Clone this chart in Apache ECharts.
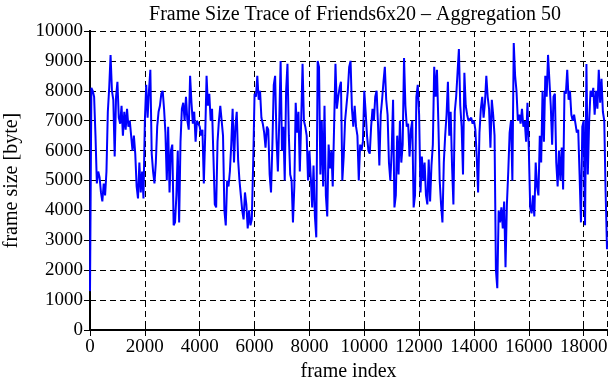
<!DOCTYPE html>
<html>
<head>
<meta charset="utf-8">
<script src="https://cdn.jsdelivr.net/npm/echarts@6/dist/echarts.min.js"></script>
<style>html,body{margin:0;padding:0;background:#fff;}#c{width:611px;height:380px;}</style>
</head>
<body>
<div id="c"></div>
<script>
// frame step of the aggregated trace (each point = 50 frames)
const frameStep = 50;
// frame size values [byte], in consecutive segments
const seg0 = [1300,8100,8000,7800,6500,4900,5300,5100,4600,4300,4900,4500,5300,7300,8100,9200,8000,7700,5800,7800,8300,7100,6900,7500,6500,7300,6700,7400,6800,7000,7000,6000,6500,5900,4800,4400,5600,4600,5300,4400,7000,8200,7100,8000,8700,5900,5300,4900,5600,6800,7300,7500,7900,8000,7400,6600,5000,6800,4600,6000,6200,3500];
const seg1 = [3600,4500,6000,3600,6300,7400,7600,7000,7800,7000,6700,8500,7600,6900,7300,6300,7000,6900,6800,6500,6700,4900,6500,8500,7500,7900,7000,7400,5800,4200,4100,6300,7000,7500,7000,6500,4000,3500,5000,4800,5300,6200,7400,5600,6800,7300,5700,5000,4500,4000,3700,4600,4200,3400,4000,3500,3700,5600,7900];
const seg2 = [7800,8500,7700,8000,7100,6900,6600,6100,6800,6700,5200,4600,6200,8200,8500,6400,5300,7000,9000,6000,6800,5000,8000,8900,6500,5200,5000,3600,4800,7600,6600,7300,5300,7000,8900,7000,6800,6500,5000,6000,5100,4100,5500,3800,3100,9000,8800,5200,7000,4800,7500,4500,3800,6200,5400,6000,4800,6800,8900,7400,7800,8100,8300,5000,5800];
const seg3 = [7000,7500,8000,8800,9000,7400,6800,7500,6800,6500,5000,6200,6000,6300,8000,7300,6500,6000,5900,6800,7400,7000,7800,8000,6900,5500,7200,7700,8300,8800,7700,7200,5600,5000,6000,7700,4100,4500,6500,5200,7000,5600,6200,9100,7500,6800,6900,5800,6700,7000,4100,4500,7800,8200,7200,4600,5800,5000,5600,4500,4200,5700];
const seg4 = [4300,5500,6200,8800,7800,8700,7000,5000,4200,3600,5600,6500,7200,8300,6500,7300,5500,4200,7300,7800,8600,9400,7500,6800,5200,8600,7500,7200,7000,7000,7100,6900,7000,6700,5800,4600,6600,7400,7800,7100,7600,8500,7800,7400,6100,7700,7200,6500,2000,1400,4000,3600,4100,3400,4300,2100,4200,5300,6600,7000];
const seg5 = [5000,9600,8500,8000,7000,7200,6900,7400,6800,7000,6300,7600,6000,4100,3900,4500,3800,5600,4800,4500,6500,5600,8000,6300,8500,7800,9200,9200,7500,6200,7800,7900,5600,4800,6000,5000,6100,4700,8000,7900,8700,7700,8000,7200,7000,7200,6900,6600,6700,5200,3600,6800,7000,3500,8900,5200,7000,8000,7800,8100,7200,8000,7400,8700,7600,8400,7300,7000,4600,2700];
const frameSize = [].concat(seg0, seg1, seg2, seg3, seg4, seg5);
// axis ticks
const xTicks = [0,2000,4000,6000,8000,10000,12000,14000,16000,18000];
const yTicks = [0,1000,2000,3000,4000,5000,6000,7000,8000,9000,10000];

const xMax = (frameSize.length - 1) * frameStep;
const points = frameSize.map((v, i) => [i * frameStep, v]);

const serif = 'Liberation Serif';
const chart = echarts.init(document.getElementById('c'), null, {renderer: 'canvas'});
const frameLine = {show: true, lineStyle: {color: '#000', width: 2}};
const tickIn = {show: true, inside: true, length: 6, lineStyle: {color: '#000', width: 1}};
const dashed = {show: true, lineStyle: {color: '#000', width: 1, type: [6, 4]}};

chart.setOption({
  animation: false,
  backgroundColor: '#fff',
  title: {
    text: 'Frame Size Trace of Friends6x20 \u2013 Aggregation 50',
    left: 350, top: 0, textAlign: 'center',
    textStyle: {fontFamily: serif, fontSize: 20, fontWeight: 'normal', color: '#000'}
  },
  grid: {left: 90, right: 4, top: 31, bottom: 50, containLabel: false, outerBoundsMode: 'none'},
  xAxis: [{
    type: 'value', min: 0, max: xMax, interval: 2000, position: 'bottom',
    name: 'frame index', nameLocation: 'middle', nameGap: 32,
    nameTextStyle: {fontFamily: serif, fontSize: 20, color: '#000'},
    axisLine: frameLine, axisTick: tickIn, splitLine: dashed,
    axisLabel: {fontFamily: serif, fontSize: 19, color: '#000', margin: 8, showMaxLabel: false,
      formatter: v => xTicks.includes(v) ? String(v) : ''}
  }, {
    type: 'value', min: 0, max: xMax, interval: 2000, position: 'top',
    axisLine: frameLine, axisTick: tickIn, splitLine: {show: false}, axisLabel: {show: false}
  }],
  yAxis: [{
    type: 'value', min: 0, max: 10000, interval: 1000, position: 'left',
    name: 'frame size [byte]', nameLocation: 'middle', nameGap: 68,
    nameTextStyle: {fontFamily: serif, fontSize: 20, color: '#000'},
    axisLine: frameLine, axisTick: tickIn, splitLine: dashed,
    axisLabel: {fontFamily: serif, fontSize: 19, color: '#000', margin: 7,
      formatter: v => yTicks.includes(v) ? String(v) : ''}
  }, {
    type: 'value', min: 0, max: 10000, interval: 1000, position: 'right',
    axisLine: frameLine, axisTick: tickIn, splitLine: {show: false}, axisLabel: {show: false}
  }],
  series: [{
    type: 'line', data: points, xAxisIndex: 0, yAxisIndex: 0,
    showSymbol: false, symbol: 'none',
    lineStyle: {color: '#0000ff', width: 2}, z: 5
  }]
});
</script>
</body>
</html>
